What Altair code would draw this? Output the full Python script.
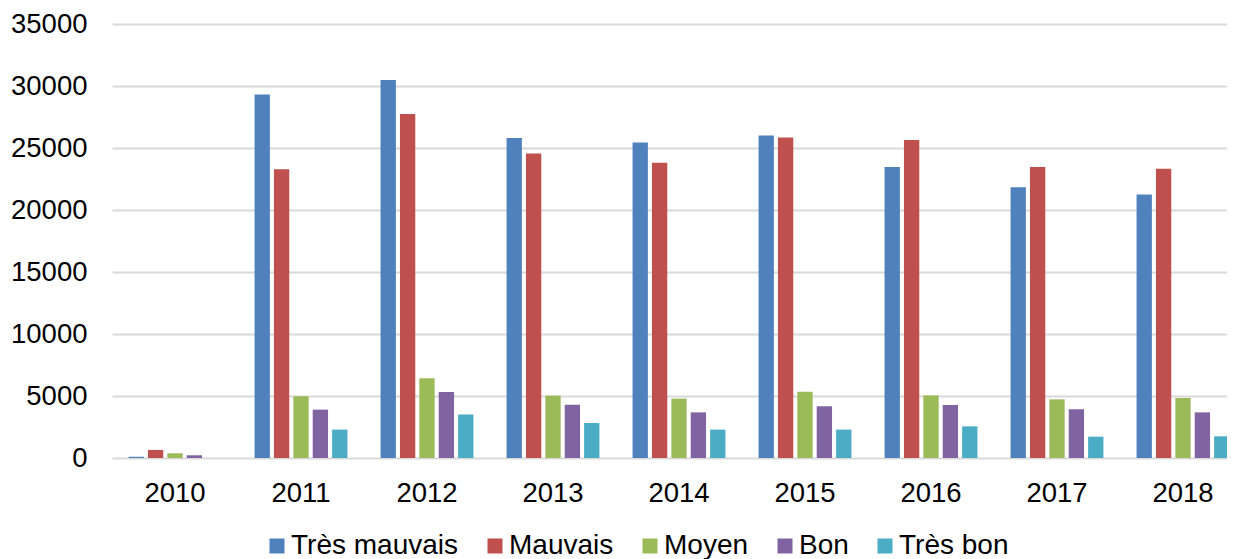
import altair as alt
import pandas as pd

years = ["2010", "2011", "2012", "2013", "2014", "2015", "2016", "2017", "2018"]
series = ["Très mauvais", "Mauvais", "Moyen", "Bon", "Très bon"]
colors = ["#4F81BD", "#C0504D", "#9BBB59", "#8064A2", "#4BACC6"]

tres_mauvais = [100, 29320, 30480, 25810, 25440, 26000, 23470, 21830, 21260]
mauvais = [650, 23280, 27740, 24550, 23820, 25840, 25650, 23470, 23330]
moyen = [380, 4980, 6430, 5030, 4790, 5350, 5050, 4730, 4840]
bon = [220, 3900, 5320, 4300, 3680, 4170, 4270, 3930, 3680]
tres_bon = [0, 2290, 3500, 2820, 2290, 2290, 2550, 1720, 1750]

y_ticks = [0, 5000, 10000, 15000, 20000, 25000, 30000, 35000]

values = [tres_mauvais, mauvais, moyen, bon, tres_bon]
rows = []
for s, vals in zip(series, values):
    for yr, v in zip(years, vals):
        rows.append({"year": yr, "series": s, "value": v})
df = pd.DataFrame(rows)

FONT = "Liberation Sans"

chart = alt.Chart(df).mark_bar().encode(
    x=alt.X(
        "year:N",
        sort=years,
        scale=alt.Scale(range=[0, 1134], paddingInner=0.263, paddingOuter=0.1315),
        axis=alt.Axis(title=None, labelAngle=0, ticks=False, domain=False,
                      labelFontSize=27.5, labelPadding=21, labelColor="#000000",
                      labelFont=FONT, grid=False),
    ),
    xOffset=alt.XOffset("series:N", sort=series,
                        scale=alt.Scale(paddingInner=0.21, paddingOuter=0)),
    y=alt.Y(
        "value:Q",
        scale=alt.Scale(domain=[0, 35000], nice=False),
        axis=alt.Axis(title=None, values=y_ticks, ticks=False, domain=False,
                      labelFontSize=27.5, labelPadding=25, labelColor="#000000",
                      labelFont=FONT, grid=True, gridColor="#D9D9D9", gridWidth=2,
                      format="d"),
    ),
    color=alt.Color(
        "series:N",
        sort=series,
        scale=alt.Scale(domain=series, range=colors),
        legend=alt.Legend(
            title=None, orient="none", direction="horizontal",
            legendX=151, legendY=508, padding=0,
            symbolType="square", symbolSize=225, symbolStrokeWidth=0,
            labelFontSize=28, labelFont=FONT, labelColor="#000000",
            labelOffset=0, columnPadding=22, labelLimit=400,
        ),
    ),
).properties(
    width=1115,
    height=434,
    autosize=alt.AutoSizeParams(type="none"),
    padding={"left": 104, "top": 16, "right": 0, "bottom": 101},
).configure_view(stroke=None)

chart.save("out.html", embed_options={"renderer": "svg", "actions": False})
